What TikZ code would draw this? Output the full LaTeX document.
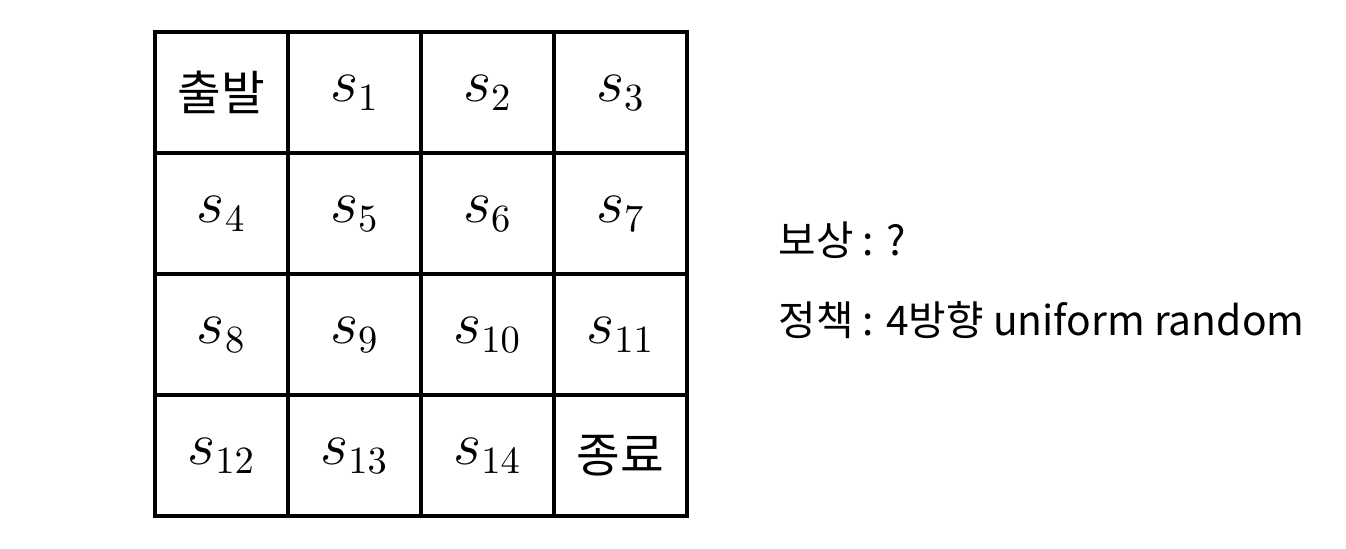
\documentclass[tikz,border=0pt]{standalone}
\usepackage{fontspec}
\usepackage{amsmath}
\newfontfamily\kr{Noto Sans CJK KR}
\tikzset{
  cell/.style={draw, line width=1pt, minimum width=1.33cm, minimum height=1.21cm, inner sep=0pt, outer sep=0pt, font=\fontsize{16}{19}\selectfont},
  side/.style={anchor=west, inner sep=0pt, font=\kr\fontsize{11.6}{14}\selectfont}
}

\begin{document}
\begin{tikzpicture}
        \useasboundingbox (0,0) rectangle (13.46,-5.48);

        % first row
        \node[cell] (start) at (2.215,-0.925) {\kr\fontsize{13.5}{16}\selectfont 출발};
        \node[cell] (s1) at (3.545,-0.925) {$s_1$};
        \node[cell] (s2) at (4.875,-0.925) {$s_2$};
        \node[cell] (s3) at (6.205,-0.925) {$s_3$};

        % second row
        \node[cell] (s4) at (2.215,-2.135) {$s_4$};
        \node[cell] (s5) at (3.545,-2.135) {$s_5$};
        \node[cell] (s6) at (4.875,-2.135) {$s_6$};
        \node[cell] (s7) at (6.205,-2.135) {$s_7$};

        % third row
        \node[cell] (s8) at (2.215,-3.345) {$s_8$};
        \node[cell] (s9) at (3.545,-3.345) {$s_9$};
        \node[cell] (s10) at (4.875,-3.345) {$s_{10}$};
        \node[cell] (s11) at (6.205,-3.345) {$s_{11}$};

        % last row
        \node[cell] (s12) at (2.215,-4.555) {$s_{12}$};
        \node[cell] (s13) at (3.545,-4.555) {$s_{13}$};
        \node[cell] (s14) at (4.875,-4.555) {$s_{14}$};
        \node[cell] (goal) at (6.205,-4.555) {\kr\fontsize{13.5}{16}\selectfont 종료};

        % reward and policy
        \node[side] (reward) at (7.78,-2.40) {보상 : ?};
        \node[side] (policy) at (7.78,-3.20) {정책 : 4방향 uniform random};

    \end{tikzpicture}
\end{document}
